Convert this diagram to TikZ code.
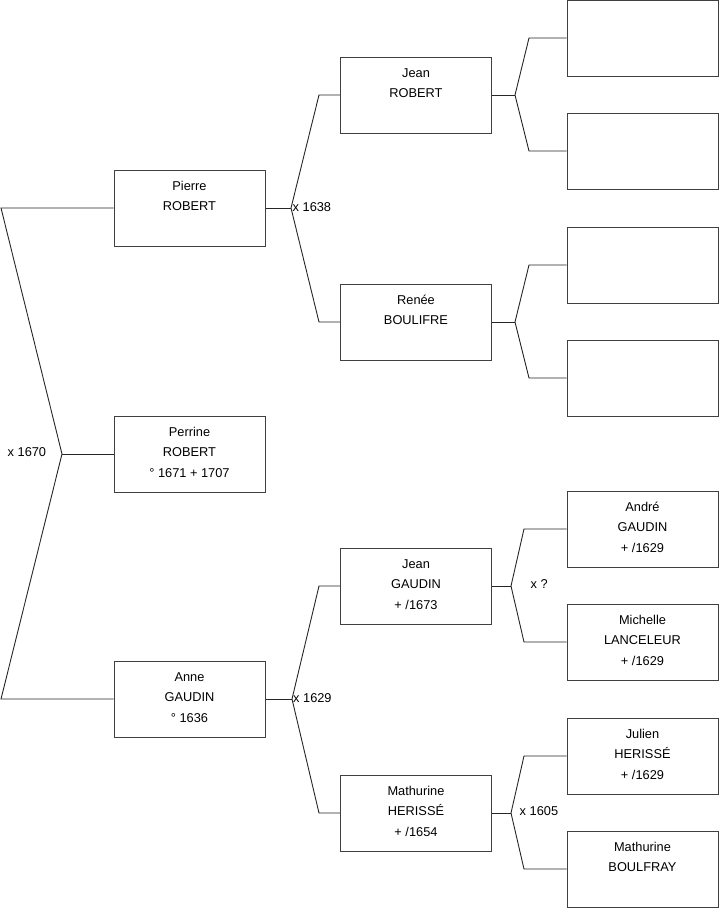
\documentclass[tikz,border=0pt]{standalone}
\usepackage{fontspec}
\setmainfont{Liberation Sans}
\newcommand\lstr{\rule[-9pt]{0pt}{23pt}}
\begin{document}
\begin{tikzpicture}[x=1pt,y=-1pt,
  person/.style={draw=black!75,line width=1pt,rectangle,minimum width=151pt,minimum height=76pt,inner sep=0pt,align=center,font=\fontsize{12.8}{20}\selectfont},
  link/.style={draw=black!85,line width=0.9pt},
  marr/.style={anchor=west,inner sep=0pt,font=\fontsize{12.8}{15}\selectfont}]
\useasboundingbox (0,0) rectangle (719,908);
% column 1
\node[person] (pierre) at (189.5,208) {\strut Pierre\\\strut ROBERT\\\lstr};
\node[person] (perrine) at (189.5,454) {\strut Perrine\\\strut ROBERT\\\lstr ° 1671 + 1707};
\node[person] (anne) at (189.5,699) {\strut Anne\\\strut GAUDIN\\\lstr ° 1636};
% column 2
\node[person] (jeanr) at (416,95) {\strut Jean\\\strut ROBERT\\\lstr};
\node[person] (renee) at (416,322) {\strut Renée\\\strut BOULIFRE\\\lstr};
\node[person] (jeang) at (416,586) {\strut Jean\\\strut GAUDIN\\\lstr + /1673};
\node[person] (mathh) at (416,813) {\strut Mathurine\\\strut HERISSÉ\\\lstr + /1654};
% column 3
\node[person] (c1) at (642.5,38) {};
\node[person] (c2) at (642.5,151) {};
\node[person] (c3) at (642.5,265) {};
\node[person] (c4) at (642.5,378) {};
\node[person] (andre) at (642.5,529) {\strut André\\\strut GAUDIN\\\lstr + /1629};
\node[person] (michelle) at (642.5,642) {\strut Michelle\\\strut LANCELEUR\\\lstr + /1629};
\node[person] (julien) at (642.5,756) {\strut Julien\\\strut HERISSÉ\\\lstr + /1629};
\node[person] (mathb) at (642.5,869) {\strut Mathurine\\\strut BOULFRAY\\\lstr};
% fork coordinates
\coordinate (lp) at (1,208);
\coordinate (lv) at (62,454);
\coordinate (la) at (1,699);
\coordinate (pv) at (291,208);
\coordinate (pt) at (319,95);
\coordinate (pb) at (319,322);
\coordinate (av) at (292,699);
\coordinate (at1) at (319,586);
\coordinate (ab) at (319,813);
\coordinate (jv) at (515,95);
\coordinate (jt) at (529,38);
\coordinate (jb) at (529,151);
\coordinate (rv) at (515,322);
\coordinate (rt) at (529,265);
\coordinate (rb) at (529,378);
\coordinate (gv) at (511,586);
\coordinate (gt) at (524,529);
\coordinate (gb) at (524,642);
\coordinate (mv) at (511,813);
\coordinate (mt) at (524,756);
\coordinate (mb) at (524,869);
% links
\draw[link] (pierre.west) -- (lp) -- (lv) -- (la) -- (anne.west);
\draw[link] (lv) -- (perrine.west);
\draw[link] (pierre.east) -- (pv);
\draw[link] (jeanr.west) -- (pt) -- (pv) -- (pb) -- (renee.west);
\draw[link] (anne.east) -- (av);
\draw[link] (jeang.west) -- (at1) -- (av) -- (ab) -- (mathh.west);
\draw[link] (jeanr.east) -- (jv);
\draw[link] (c1.west) -- (jt) -- (jv) -- (jb) -- (c2.west);
\draw[link] (renee.east) -- (rv);
\draw[link] (c3.west) -- (rt) -- (rv) -- (rb) -- (c4.west);
\draw[link] (jeang.east) -- (gv);
\draw[link] (andre.west) -- (gt) -- (gv) -- (gb) -- (michelle.west);
\draw[link] (mathh.east) -- (mv);
\draw[link] (julien.west) -- (mt) -- (mv) -- (mb) -- (mathb.west);
% marriage labels
\node[marr] (m1670) at (7.5,452) {x 1670};
\node[marr] (m1638) at (292.5,207.5) {x 1638};
\node[marr] (m1629) at (293,698.5) {x 1629};
\node[marr] (mq) at (530.5,584) {x ?};
\node[marr] (m1605) at (519.5,811) {x 1605};
\end{tikzpicture}
\end{document}
